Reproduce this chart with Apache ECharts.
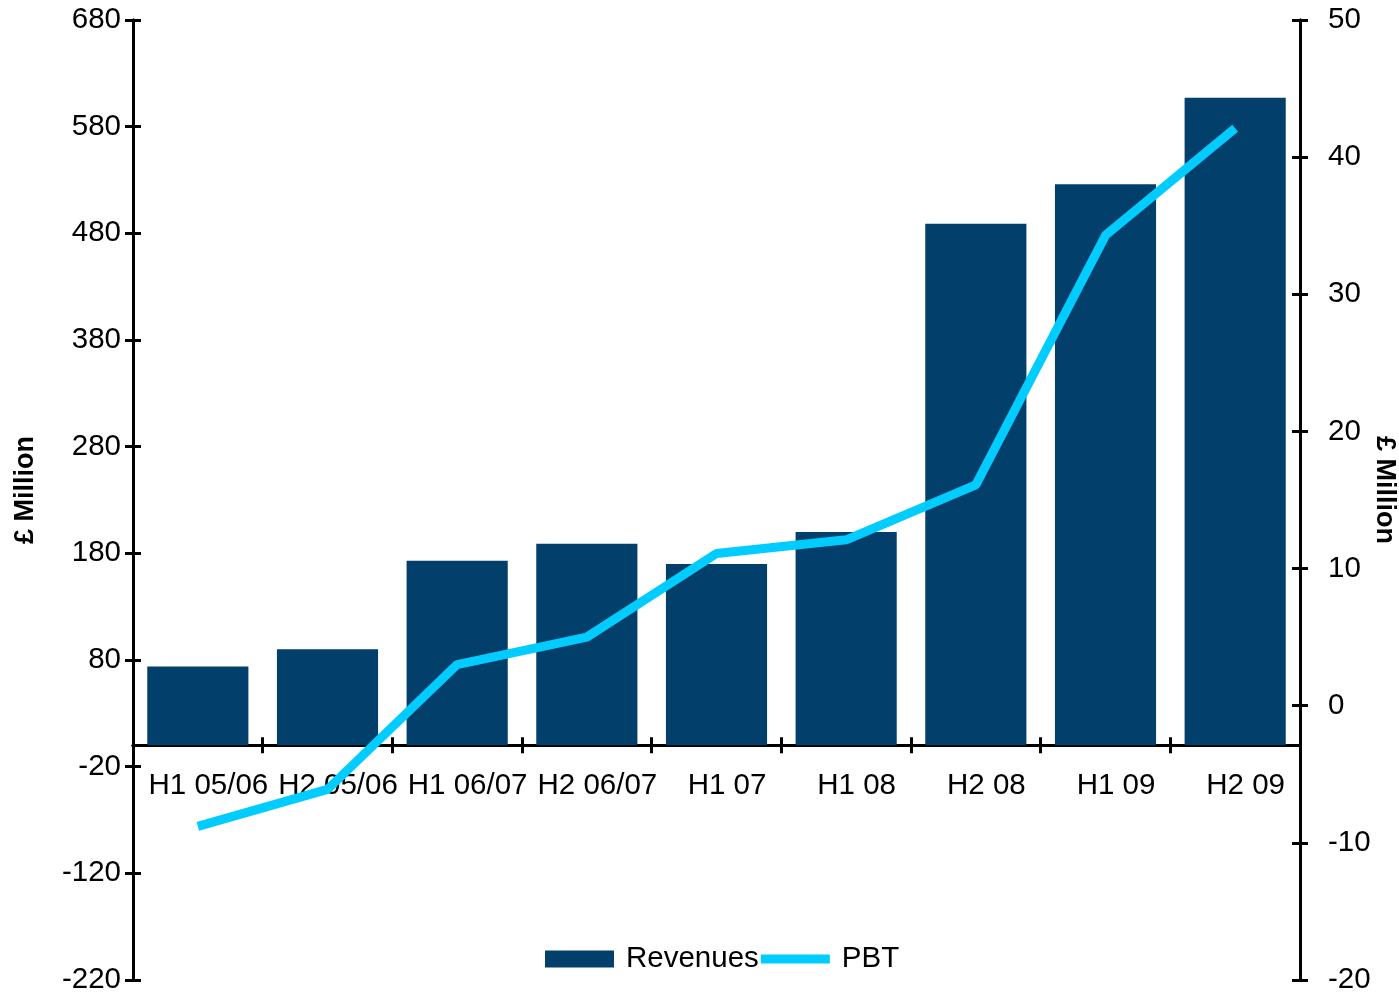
<!DOCTYPE html>
<html>
<head>
<meta charset="utf-8">
<script src="https://cdn.jsdelivr.net/npm/echarts@6/dist/echarts.min.js"></script>
<style>html,body{margin:0;padding:0;background:#fff;}#c{width:1399px;height:992px;}</style>
</head>
<body>
<div id="c"></div>
<script>
const categories = ['H1 05/06','H2 05/06','H1 06/07','H2 06/07','H1 07','H1 08','H2 08','H1 09','H2 09'];
const revenues = [74, 90, 173, 189, 170, 200, 489, 526, 607];
const pbt = [-8.8, -6.1, 3.0, 5.0, 11.1, 12.1, 16.1, 34.3, 42.1];
const leftAxis = {min: -220, max: 680, interval: 100};
const rightAxis = {min: -20, max: 50, interval: 10};
const axisName = '£ Million';

const FONT = '"Liberation Sans", Arial, sans-serif';
const FS = 29.5;
const black = '#000';
const GRID = {left: 133, right: 99, top: 20, bottom: 12};
const gridH = 992 - GRID.top - GRID.bottom;
// place category axis at value 0 of the left axis
const zeroOffset = -(0 - leftAxis.min) / (leftAxis.max - leftAxis.min) * gridH;

const chart = echarts.init(document.getElementById('c'));
const lineStyle = {color: black, width: 3};
function yAx(base, pos, inside, showLabel, name, nameGap, nameRotate, labelMargin, namePad){
  return Object.assign({
    type: 'value', position: pos, splitLine: {show: false},
    axisLine: {show: true, onZero: false, lineStyle: lineStyle},
    axisTick: {show: true, inside: inside, length: 8, lineStyle: lineStyle},
    axisLabel: {show: showLabel, color: black, fontSize: FS, fontFamily: FONT, margin: labelMargin},
    name: showLabel ? name : '', nameLocation: 'middle', nameGap: nameGap, nameRotate: nameRotate,
    nameMoveOverlap: false,
    nameTextStyle: {color: black, fontSize: 27, fontWeight: 'bold', fontFamily: FONT, padding: namePad || 0}
  }, base);
}
function xAx(inside, showLabel){
  return {
    type: 'category', data: categories, position: 'bottom', offset: zeroOffset,
    axisLine: {show: true, onZero: false, lineStyle: lineStyle},
    axisTick: {show: true, inside: inside, length: 8, interval: 0, lineStyle: lineStyle},
    axisLabel: {show: showLabel, interval: 0, color: black, fontSize: FS, fontFamily: FONT, margin: 26, padding: [0,0,0,21]},
    splitLine: {show: false}
  };
}
chart.setOption({
  animation: false,
  backgroundColor: '#fff',
  grid: Object.assign({containLabel: false, outerBoundsMode: 'none'}, GRID),
  legend: {
    left: 540, top: 939, itemWidth: 69, itemHeight: 17, itemGap: 2,
    textStyle: {color: black, fontSize: FS, fontFamily: FONT, padding: [0,0,0,7]},
    data: [{name: 'Revenues', icon: 'rect'}, {name: 'PBT', icon: 'path://M0,0L69,0L69,9L0,9Z'}]
  },
  xAxis: [xAx(false, true), xAx(true, false)],
  yAxis: [
    yAx(leftAxis, 'left', false, true, axisName, 94, 90, 12, [0,0,0,20]),
    yAx(rightAxis, 'right', false, true, axisName, 71, -90, 28, [0,20,0,0]),
    yAx(leftAxis, 'left', true, false, '', 0, 90, 12),
    yAx(rightAxis, 'right', true, false, '', 0, -90, 28)
  ],
  series: [
    {name: 'Revenues', type: 'bar', data: revenues, xAxisIndex: 0, yAxisIndex: 0,
     barCategoryGap: '22%', itemStyle: {color: '#023F6A'}},
    {name: 'PBT', type: 'line', data: pbt, xAxisIndex: 0, yAxisIndex: 1,
     symbol: 'none', lineStyle: {color: '#00CCFF', width: 9}, itemStyle: {color: '#00CCFF'}}
  ]
});
</script>
</body>
</html>
